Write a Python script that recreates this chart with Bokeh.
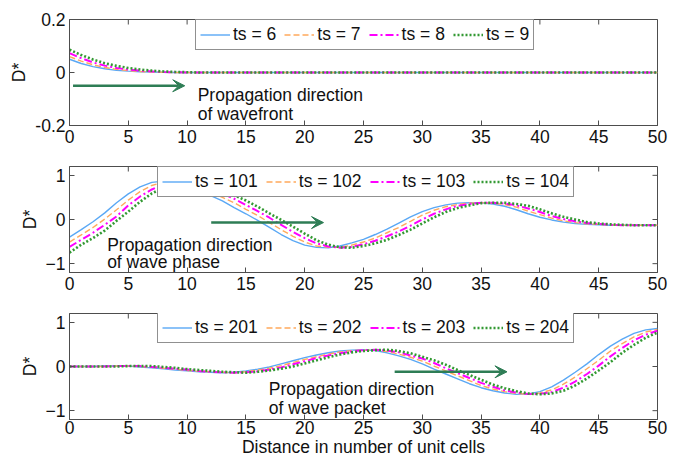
import math
from bokeh.plotting import figure
from bokeh.layouts import column
from bokeh.models import Range1d, FixedTicker, Legend, LegendItem, Arrow, VeeHead
from bokeh.core.properties import value
from bokeh.embed import file_html
from bokeh.resources import INLINE

# ---------------- data ----------------
x_cells = list(range(51))
x_ticks = [0, 5, 10, 15, 20, 25, 30, 35, 40, 45, 50]

top_labels = ["ts = 6", "ts = 7", "ts = 8", "ts = 9"]
top_yticks = [-0.2, 0, 0.2]
ts6 = [0.050, 0.034, 0.022, 0.014, 0.008, 0.005, 0.003, 0.002, 0.001, 0.0,
       0.0, 0.0, 0.0, 0.0, 0.0, 0.0, 0.0, 0.0, 0.0, 0.0,
       0.0, 0.0, 0.0, 0.0, 0.0, 0.0, 0.0, 0.0, 0.0, 0.0,
       0.0, 0.0, 0.0, 0.0, 0.0, 0.0, 0.0, 0.0, 0.0, 0.0,
       0.0, 0.0, 0.0, 0.0, 0.0, 0.0, 0.0, 0.0, 0.0, 0.0, 0.0]
ts7 = [0.060, 0.043, 0.029, 0.019, 0.012, 0.007, 0.004, 0.002, 0.001, 0.0,
       0.0, 0.0, 0.0, 0.0, 0.0, 0.0, 0.0, 0.0, 0.0, 0.0,
       0.0, 0.0, 0.0, 0.0, 0.0, 0.0, 0.0, 0.0, 0.0, 0.0,
       0.0, 0.0, 0.0, 0.0, 0.0, 0.0, 0.0, 0.0, 0.0, 0.0,
       0.0, 0.0, 0.0, 0.0, 0.0, 0.0, 0.0, 0.0, 0.0, 0.0, 0.0]
ts8 = [0.073, 0.054, 0.038, 0.026, 0.017, 0.011, 0.007, 0.004, 0.002, 0.001,
       0.0, 0.0, 0.0, 0.0, 0.0, 0.0, 0.0, 0.0, 0.0, 0.0,
       0.0, 0.0, 0.0, 0.0, 0.0, 0.0, 0.0, 0.0, 0.0, 0.0,
       0.0, 0.0, 0.0, 0.0, 0.0, 0.0, 0.0, 0.0, 0.0, 0.0,
       0.0, 0.0, 0.0, 0.0, 0.0, 0.0, 0.0, 0.0, 0.0, 0.0, 0.0]
ts9 = [0.086, 0.066, 0.049, 0.035, 0.025, 0.017, 0.011, 0.007, 0.004, 0.002,
       0.001, 0.0, 0.0, 0.0, 0.0, 0.0, 0.0, 0.0, 0.0, 0.0,
       0.0, 0.0, 0.0, 0.0, 0.0, 0.0, 0.0, 0.0, 0.0, 0.0,
       0.0, 0.0, 0.0, 0.0, 0.0, 0.0, 0.0, 0.0, 0.0, 0.0,
       0.0, 0.0, 0.0, 0.0, 0.0, 0.0, 0.0, 0.0, 0.0, 0.0, 0.0]

mid_labels = ["ts = 101", "ts = 102", "ts = 103", "ts = 104"]
wave_yticks = [-1, 0, 1]
ts101 = [-0.40, -0.23, -0.05, 0.15, 0.38, 0.58, 0.74, 0.84, 0.87, 0.84,
         0.77, 0.67, 0.54, 0.42, 0.27, 0.13, -0.02, -0.18, -0.34, -0.48,
         -0.58, -0.63, -0.64, -0.60, -0.53, -0.45, -0.34, -0.22, -0.08, 0.06,
         0.18, 0.27, 0.33, 0.37, 0.38, 0.38, 0.35, 0.30, 0.22, 0.13,
         0.05, -0.01, -0.06, -0.09, -0.11, -0.12, -0.13, -0.13, -0.13, -0.13, -0.13]
ts102 = [-0.51, -0.35, -0.18, 0.01, 0.22, 0.44, 0.63, 0.77, 0.85, 0.86,
         0.82, 0.74, 0.63, 0.50, 0.38, 0.23, 0.09, -0.07, -0.23, -0.38,
         -0.51, -0.60, -0.63, -0.63, -0.58, -0.51, -0.42, -0.30, -0.18, -0.04,
         0.10, 0.21, 0.29, 0.34, 0.37, 0.38, 0.37, 0.34, 0.28, 0.19,
         0.11, 0.03, -0.03, -0.07, -0.10, -0.11, -0.12, -0.13, -0.13, -0.13, -0.13]
ts103 = [-0.62, -0.46, -0.30, -0.12, 0.07, 0.32, 0.52, 0.68, 0.80, 0.86,
         0.85, 0.80, 0.71, 0.59, 0.47, 0.33, 0.19, 0.04, -0.12, -0.28,
         -0.42, -0.54, -0.61, -0.64, -0.62, -0.56, -0.48, -0.38, -0.27, -0.14,
         0.00, 0.13, 0.23, 0.31, 0.35, 0.38, 0.38, 0.36, 0.32, 0.25,
         0.17, 0.08, 0.01, -0.04, -0.08, -0.10, -0.12, -0.13, -0.13, -0.13, -0.13]
ts104 = [-0.75, -0.57, -0.42, -0.25, -0.03, 0.18, 0.40, 0.59, 0.72, 0.83,
         0.87, 0.84, 0.78, 0.68, 0.55, 0.43, 0.29, 0.14, -0.01, -0.16,
         -0.32, -0.47, -0.57, -0.63, -0.64, -0.60, -0.54, -0.46, -0.35, -0.23,
         -0.09, 0.05, 0.17, 0.26, 0.32, 0.37, 0.38, 0.38, 0.35, 0.31,
         0.23, 0.14, 0.06, 0.00, -0.06, -0.09, -0.11, -0.12, -0.13, -0.13, -0.13]

bot_labels = ["ts = 201", "ts = 202", "ts = 203", "ts = 204"]
ts201 = [0.00, 0.00, 0.00, 0.01, 0.01, 0.01, -0.01, -0.03, -0.05, -0.08,
         -0.10, -0.12, -0.13, -0.14, -0.13, -0.10, -0.06, -0.01, 0.06, 0.13,
         0.20, 0.26, 0.31, 0.35, 0.37, 0.38, 0.36, 0.31, 0.24, 0.16,
         0.06, -0.06, -0.17, -0.28, -0.39, -0.48, -0.55, -0.60, -0.63, -0.62,
         -0.57, -0.46, -0.31, -0.13, 0.06, 0.27, 0.46, 0.62, 0.75, 0.83, 0.86]
ts202 = [0.00, 0.00, 0.00, 0.00, 0.01, 0.01, 0.00, -0.02, -0.04, -0.06,
         -0.09, -0.11, -0.12, -0.13, -0.14, -0.12, -0.08, -0.04, 0.02, 0.09,
         0.16, 0.22, 0.28, 0.33, 0.36, 0.37, 0.37, 0.34, 0.28, 0.21,
         0.12, 0.01, -0.10, -0.21, -0.32, -0.43, -0.51, -0.57, -0.61, -0.63,
         -0.60, -0.53, -0.40, -0.24, -0.05, 0.14, 0.35, 0.52, 0.67, 0.78, 0.84]
ts203 = [0.00, 0.00, 0.00, 0.00, 0.01, 0.01, 0.01, -0.01, -0.03, -0.05,
         -0.07, -0.10, -0.12, -0.13, -0.14, -0.13, -0.11, -0.07, -0.02, 0.05,
         0.12, 0.19, 0.25, 0.30, 0.34, 0.37, 0.38, 0.36, 0.32, 0.25,
         0.18, 0.08, -0.04, -0.15, -0.26, -0.37, -0.46, -0.54, -0.59, -0.62,
         -0.62, -0.58, -0.48, -0.34, -0.17, 0.02, 0.23, 0.42, 0.59, 0.72, 0.81]
ts204 = [0.00, 0.00, 0.00, 0.00, 0.00, 0.01, 0.01, 0.01, -0.01, -0.03,
         -0.06, -0.08, -0.10, -0.12, -0.13, -0.14, -0.12, -0.09, -0.05, 0.00,
         0.07, 0.14, 0.21, 0.27, 0.32, 0.35, 0.37, 0.38, 0.35, 0.30,
         0.22, 0.14, 0.04, -0.08, -0.19, -0.30, -0.41, -0.49, -0.56, -0.61,
         -0.63, -0.61, -0.55, -0.43, -0.27, -0.09, 0.10, 0.31, 0.49, 0.65, 0.77]

# ---------------- style ----------------
FONT = "Liberation Sans"
FS = "17.5px"
FRAME = "#4d4d4d"
TXT = "#111111"
ARROW_C = "#2e7d55"
COLORS = ["#5aa8f5", "#ffa95c", "#ff00ff", "#339933"]
DASHES = ["solid", "6 3", "8 3 2 3", "2 2"]
WIDTHS = [1.4, 1.4, 2.0, 2.6]


def style_axis(ax, standoff):
    ax.axis_line_color = FRAME
    ax.major_tick_line_color = FRAME
    ax.minor_tick_line_color = None
    ax.major_tick_in = 5
    ax.major_tick_out = 0
    ax.major_label_text_font = FONT
    ax.major_label_text_font_size = FS
    ax.major_label_text_color = TXT
    ax.major_label_standoff = standoff
    ax.axis_label_text_font = FONT
    ax.axis_label_text_font_size = FS
    ax.axis_label_text_font_style = "normal"
    ax.axis_label_text_color = TXT


def panel(series, labels, yr, yticks, overrides, legend_loc, arrow, texts, text_x, text_y,
          border_top, border_bottom, xstandoff, xlabel=None):
    p = figure(frame_width=588, frame_height=106,
               min_border_left=69, min_border_right=24,
               min_border_top=border_top, min_border_bottom=border_bottom,
               x_range=Range1d(0, 50), y_range=Range1d(*yr),
               toolbar_location=None, output_backend="svg")
    p.grid.visible = False
    p.outline_line_color = FRAME
    p.background_fill_color = "white"
    p.border_fill_color = "white"

    p.xaxis.ticker = FixedTicker(ticks=x_ticks)
    p.yaxis.ticker = FixedTicker(ticks=yticks)
    p.yaxis.major_label_overrides = overrides
    p.yaxis.axis_label = "D*"
    p.yaxis.axis_label_standoff = 3
    if xlabel:
        p.xaxis.axis_label = xlabel
        p.xaxis.axis_label_standoff = 0
    for ax in p.xaxis:
        style_axis(ax, xstandoff)
    for ax in p.yaxis:
        style_axis(ax, 4)

    # inward ticks on the top and right edges of the box
    p.ray(x=x_ticks, y=[yr[1]] * len(x_ticks), length=5, length_units="screen",
          angle=-math.pi / 2, line_color=FRAME, line_width=1)
    p.ray(x=[50] * len(yticks), y=yticks, length=5, length_units="screen",
          angle=math.pi, line_color=FRAME, line_width=1)

    items = []
    for ys, lab, c, d, w in zip(series, labels, COLORS, DASHES, WIDTHS):
        r = p.line(x_cells, ys, line_color=c, line_dash=d, line_width=w)
        items.append(LegendItem(label=lab, renderers=[r]))

    leg = Legend(items=items, orientation="horizontal", location=legend_loc,
                 glyph_width=30, glyph_height=17, label_height=17, label_standoff=3,
                 spacing=8, padding=4, margin=0,
                 border_line_color="#222222", border_line_width=1,
                 background_fill_color="white", background_fill_alpha=1.0,
                 label_text_font=FONT, label_text_font_size=FS, label_text_color=TXT)
    p.add_layout(leg)

    x0, x1, ya = arrow
    p.add_layout(Arrow(end=VeeHead(size=12, fill_color=ARROW_C, line_color=ARROW_C),
                       x_start=x0, y_start=ya, x_end=x1, y_end=ya,
                       line_color=ARROW_C, line_width=2.5))

    p.text(x=[text_x, text_x], y=text_y, text=texts,
           text_font=value(FONT), text_font_size=FS, text_color=TXT,
           text_baseline="alphabetic", text_align="left")
    return p


p1 = panel([ts6, ts7, ts8, ts9], top_labels, (-0.2, 0.2), top_yticks,
           {0: "0", -0.2: "-0.2", 0.2: "0.2"}, (126, 75), (0.3, 9.8, -0.05),
           ["Propagation direction", "of wavefront"], 10.9, [-0.085, -0.156],
           19, 22, 4)
p2 = panel([ts101, ts102, ts103, ts104], mid_labels, (-1.2, 1.2), wave_yticks,
           {}, (88, 75), (12.05, 21.6, -0.07),
           ["Propagation direction", "of wave phase"], 3.2, [-0.57, -0.97],
           19, 22, 4)
p3 = panel([ts201, ts202, ts203, ts204], bot_labels, (-1.2, 1.2), wave_yticks,
           {}, (88, 76), (27.65, 37.2, -0.12),
           ["Propagation direction", "of wave packet"], 16.95, [-0.52, -0.93],
           19, 30, 1, xlabel="Distance in number of unit cells")

layout = column(p1, p2, p3, spacing=0)
open("out.html", "w").write(file_html(layout, INLINE))
